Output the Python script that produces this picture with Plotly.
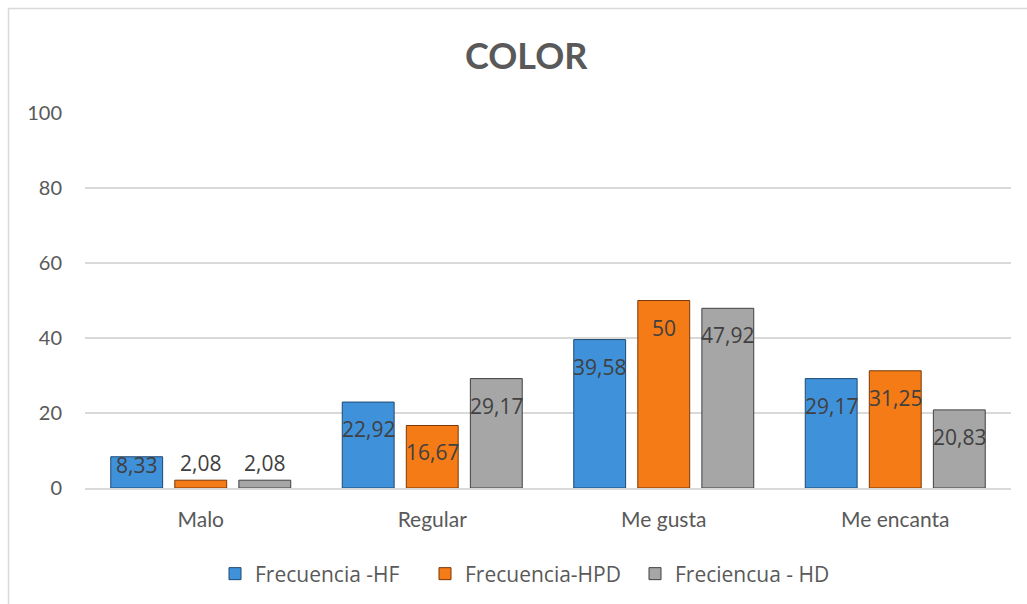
import plotly.graph_objects as go

categories = ["Malo", "Regular", "Me gusta", "Me encanta"]
series_names = ["Frecuencia -HF", "Frecuencia-HPD", "Freciencua - HD"]
hf = [8.33, 22.92, 39.58, 29.17]
hpd = [2.08, 16.67, 50, 31.25]
hd = [2.08, 29.17, 47.92, 20.83]
y_ticks = [0, 20, 40, 60, 80, 100]

series_values = [hf, hpd, hd]
fills = ["#3f91da", "#f47b16", "#a6a6a6"]
edges = ["#1d4a72", "#7a3706", "#404040"]

W, H = 1027, 604
ML, MR, MT, MB = 85, 16, 113, 116
plot_h = H - MT - MB

fig = go.Figure()
for name, vals, fc, ec in zip(series_names, series_values, fills, edges):
    fig.add_trace(go.Bar(
        name=name, x=categories, y=vals,
        marker=dict(color=fc, line=dict(color=ec, width=1)),
        hoverinfo="x+y",
    ))

def fmt(v):
    s = ("%.2f" % v).rstrip("0").rstrip(".")
    return s.replace(".", ",")

offsets = [-64, 0, 64]
annotations = []
for k, vals in enumerate(series_values):
    for cat, v in zip(categories, vals):
        hpx = v / 100 * plot_h
        if hpx >= 60:
            ys = -27
        elif hpx >= 20:
            ys = -8
        else:
            ys = 17
        annotations.append(dict(
            x=cat, y=v, xref="x", yref="y", text=fmt(v), showarrow=False,
            xshift=offsets[k], yshift=ys, yanchor="middle",
            font=dict(family="Open Sans", size=21, color="#404040"),
        ))

annotations.append(dict(
    text="<b>COLOR</b>", xref="paper", yref="paper",
    x=(526 - ML) / (W - ML - MR), y=(H - MB - 55) / plot_h,
    xanchor="center", yanchor="middle", showarrow=False,
    font=dict(family="Lato", size=36, color="#595959"),
))

fig.update_layout(
    width=W, height=H,
    margin=dict(l=ML, r=MR, t=MT, b=MB),
    paper_bgcolor="white", plot_bgcolor="white",
    barmode="group", bargap=0.17, bargroupgap=0.19,
    annotations=annotations,
    showlegend=True,
    legend=dict(
        orientation="h", x=530 / W, xref="container", xanchor="center",
        y=1 - 574 / H, yref="container", yanchor="middle",
        font=dict(family="Open Sans", size=21, color="#595959"),
        itemwidth=30, traceorder="normal",
        entrywidth=165, entrywidthmode="pixels",
    ),
    shapes=[dict(
        type="rect", xref="paper", yref="paper",
        x0=(8.5 - ML) / (W - ML - MR), x1=1.2,
        y0=-0.5, y1=(H - MB - 8.5) / plot_h,
        line=dict(color="#d9d9d9", width=1.5), fillcolor="rgba(0,0,0,0)", layer="below",
    )],
)
fig.update_yaxes(
    range=[0, 100], tickvals=y_ticks, showgrid=True, gridcolor="#d9d9d9", gridwidth=1.5,
    zeroline=False, showline=False, ticks="",
    tickfont=dict(family="Lato", size=20, color="#595959"), ticklabelstandoff=22,
)
fig.update_xaxes(
    showline=True, linecolor="#d9d9d9", linewidth=1.5, ticks="",
    tickfont=dict(family="Lato", size=21, color="#595959"), ticklabelstandoff=12,
)

fig.write_html("out.html")
